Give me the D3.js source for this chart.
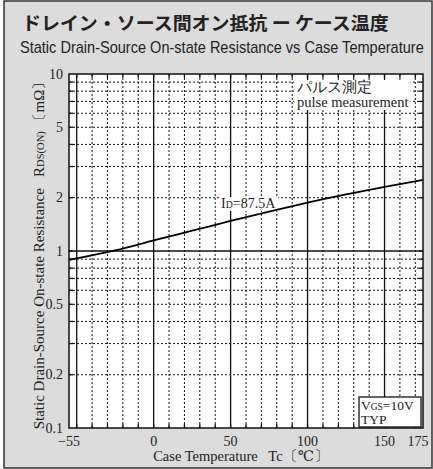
<!DOCTYPE html>
<html>
<head>
<meta charset="utf-8">
<script src="https://cdn.jsdelivr.net/npm/d3@7"></script>
<style>
  body { margin: 0; background: #fff; }
  svg text { fill: #222; }
</style>
</head>
<body>
<script>
// case temperature (deg C) vs RDS(on) (mOhm), ID = 87.5A, VGS = 10V
var tempC = [ -55, -25, 0, 25, 50, 75, 100, 125, 150, 175 ];
var rdsOn = [ 0.89, 1.0, 1.15, 1.30, 1.48, 1.67, 1.88, 2.09, 2.31, 2.52 ];
var xTicks = [ -55, 0, 50, 100, 150, 175 ];
var yTicks = [ 0.1, 0.2, 0.5, 1, 2, 5, 10 ];
var yTickText = [ '0.1', '0.2', '0.5', '1', '2', '5', '10' ];

var W = 433, H = 469;
var pL = 69, pR = 423, pT = 74, pB = 428;
var serif = '"Liberation Serif", "DejaVu Serif", serif';

var svg = d3.select( 'body' ).append( 'svg' )
    .attr( 'width', W ).attr( 'height', H );

svg.append( 'rect' )
    .attr( 'x', 4 ).attr( 'y', 1 ).attr( 'width', W - 5 ).attr( 'height', H - 2 )
    .attr( 'fill', '#dcdcdc' ).attr( 'stroke', '#333' ).attr( 'stroke-width', 1.5 );

var x = d3.scaleLinear().domain( [ -55, 175 ] ).range( [ pL, pR ] );
var y = d3.scaleLog().domain( [ 0.1, 10 ] ).range( [ pB, pT ] );

svg.append( 'rect' )
    .attr( 'x', pL ).attr( 'y', pT )
    .attr( 'width', pR - pL ).attr( 'height', pB - pT )
    .attr( 'fill', '#fff' );

// grid
var vLines = d3.range( -50, 171, 10 );
var hLines = [ 0.2, 0.3, 0.4, 0.5, 0.6, 0.7, 0.8, 0.9, 1, 2, 3, 4, 5, 6, 7, 8, 9 ];

svg.append( 'g' ).selectAll( 'line' )
    .data( vLines ).enter().append( 'line' )
    .attr( 'x1', function( d ){ return x( d ); } )
    .attr( 'x2', function( d ){ return x( d ); } )
    .attr( 'y1', pT ).attr( 'y2', pB )
    .attr( 'stroke', '#111' )
    .attr( 'stroke-width', function( d ){ return d % 50 === 0 ? 1.3 : 1; } )
    .attr( 'stroke-dasharray', function( d ){ return d % 50 === 0 ? null : '2,2'; } );

svg.append( 'g' ).selectAll( 'line' )
    .data( hLines ).enter().append( 'line' )
    .attr( 'x1', pL ).attr( 'x2', pR )
    .attr( 'y1', function( d ){ return y( d ); } )
    .attr( 'y2', function( d ){ return y( d ); } )
    .attr( 'stroke', '#111' )
    .attr( 'stroke-width', function( d ){ return d === 1 ? 1.3 : 1; } )
    .attr( 'stroke-dasharray', function( d ){ return d === 1 ? null : '2,2'; } );

// short solid ticks on the frame
var tk = svg.append( 'g' ).attr( 'stroke', '#111' ).attr( 'stroke-width', 1.3 );
vLines.forEach( function( d ){
    tk.append( 'line' ).attr( 'x1', x( d ) ).attr( 'x2', x( d ) ).attr( 'y1', pT ).attr( 'y2', pT + 4 );
    tk.append( 'line' ).attr( 'x1', x( d ) ).attr( 'x2', x( d ) ).attr( 'y1', pB ).attr( 'y2', pB - 4 );
});
hLines.forEach( function( d ){
    tk.append( 'line' ).attr( 'x1', pL ).attr( 'x2', pL + 4 ).attr( 'y1', y( d ) ).attr( 'y2', y( d ) );
    tk.append( 'line' ).attr( 'x1', pR ).attr( 'x2', pR - 4 ).attr( 'y1', y( d ) ).attr( 'y2', y( d ) );
});

// labels with white background, one text element per line
function boxedText( tx, ty, lines, fs, gap ){
    var g = svg.append( 'g' );
    var bg = g.append( 'rect' ).attr( 'fill', '#fff' );
    var x0 = Infinity, x1 = -Infinity, y0 = Infinity, y1 = -Infinity;
    lines.forEach( function( l, i ){
        var t = g.append( 'text' )
            .attr( 'font-family', serif ).attr( 'font-size', fs )
            .attr( 'x', tx ).attr( 'y', ty + i * gap );
        l.forEach( function( part ){
            var s = t.append( 'tspan' ).text( part[ 0 ] );
            if( part[ 1 ] ) s.attr( 'font-size', fs * 0.7 );
        });
        var b = t.node().getBBox();
        x0 = Math.min( x0, b.x ); x1 = Math.max( x1, b.x + b.width );
        y0 = Math.min( y0, b.y ); y1 = Math.max( y1, b.y + b.height );
    });
    bg.attr( 'x', x0 - 2 ).attr( 'y', y0 + 1 ).attr( 'width', x1 - x0 + 4 ).attr( 'height', y1 - y0 - 1 );
    return bg;
}

boxedText( 297, 92, [ [ [ 'パルス測定' ] ], [ [ 'pulse measurement' ] ] ], 14.5, 15 );
boxedText( 221, 208, [ [ [ 'I' ], [ 'D', true ], [ '=87.5A' ] ] ], 14, 0 );
boxedText( 361, 410, [ [ [ 'V' ], [ 'GS', true ], [ '=10V' ] ], [ [ 'TYP' ] ] ], 13.5, 14 )
    .attr( 'x', 359 ).attr( 'width', 62 ).attr( 'y', 397 ).attr( 'height', 30 )
    .attr( 'stroke', '#111' ).attr( 'stroke-width', 1.3 );

// curve
var line = d3.line()
    .x( function( d, i ){ return x( tempC[ i ] ); } )
    .y( function( d ){ return y( d ); } )
    .curve( d3.curveBasis );

svg.append( 'path' )
    .attr( 'd', line( rdsOn ) )
    .attr( 'fill', 'none' ).attr( 'stroke', '#000' ).attr( 'stroke-width', 1.8 );

// frame
svg.append( 'rect' )
    .attr( 'x', pL ).attr( 'y', pT )
    .attr( 'width', pR - pL ).attr( 'height', pB - pT )
    .attr( 'fill', 'none' ).attr( 'stroke', '#111' ).attr( 'stroke-width', 1.5 );

// tick labels
svg.append( 'g' ).selectAll( 'text' )
    .data( xTicks ).enter().append( 'text' )
    .attr( 'x', function( d ){ return d === 175 ? x( d ) - 5 : x( d ); } )
    .attr( 'y', 446 )
    .attr( 'text-anchor', 'middle' )
    .attr( 'font-family', serif ).attr( 'font-size', 14 )
    .text( function( d ){ return d < 0 ? '\u2212' + ( -d ) : d; } );

svg.append( 'g' ).selectAll( 'text' )
    .data( yTicks ).enter().append( 'text' )
    .attr( 'x', 63 )
    .attr( 'y', function( d ){ return y( d ) + 4.5; } )
    .attr( 'text-anchor', 'end' )
    .attr( 'font-family', serif ).attr( 'font-size', 14 )
    .text( function( d, i ){ return yTickText[ i ]; } );

// axis titles
svg.append( 'text' )
    .attr( 'x', 241 ).attr( 'y', 461 )
    .attr( 'text-anchor', 'middle' )
    .attr( 'font-family', serif ).attr( 'font-size', 14.5 )
    .text( 'Case Temperature\u00a0\u00a0 Tc\u3014\u2103\u3015' );

var yt = svg.append( 'text' )
    .attr( 'transform', 'translate(44,' + ( ( pT + pB ) / 2 + 1 ) + ') rotate(-90)' )
    .attr( 'text-anchor', 'middle' )
    .attr( 'font-family', serif ).attr( 'font-size', 15 );
yt.append( 'tspan' ).text( 'Static Drain-Source On-state Resistance\u00a0\u00a0 R' );
yt.append( 'tspan' ).attr( 'font-size', 10.5 ).text( 'DS(ON)' );
yt.append( 'tspan' ).text( '\u00a0\u3014m\u03a9\u3015' );

// titles, squeezed horizontally to the reference width
function fitTitle( txt, tx, ty, w, fam, fs, weight ){
    var t = svg.append( 'text' )
        .attr( 'font-family', fam ).attr( 'font-size', fs )
        .attr( 'font-weight', weight )
        .text( txt );
    var k = w / t.node().getComputedTextLength();
    t.attr( 'transform', 'translate(' + tx + ',' + ty + ') scale(' + k + ',1)' );
}

fitTitle( 'ドレイン・ソース間オン抵抗 ー ケース温度', 22, 30, 367,
    '"Noto Sans CJK JP", sans-serif', 18.5, 'bold' );
fitTitle( 'Static Drain-Source On-state Resistance vs Case Temperature', 20, 53, 404,
    '"Liberation Sans Narrow", "Liberation Sans", Arial, sans-serif', 16, 'normal' );
</script>
</body>
</html>
